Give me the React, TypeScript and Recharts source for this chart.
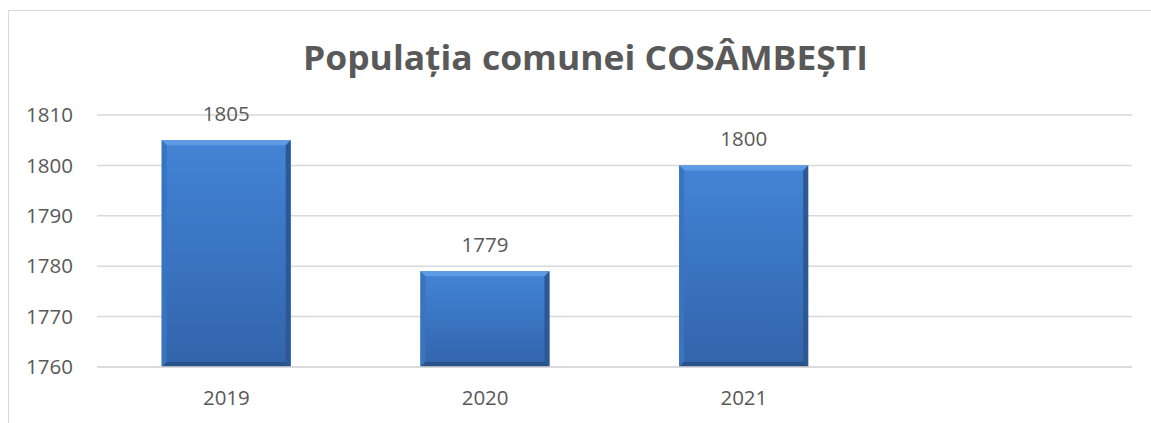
import { BarChart, Bar, XAxis, YAxis, CartesianGrid, LabelList } from "recharts";

const years = ["2019", "2020", "2021", ""];
const population: (number | null)[] = [1805, 1779, 1800, null];
const yTicks = [1760, 1770, 1780, 1790, 1800, 1810];

const data = years.map((year, i) => ({ year, value: population[i] }));

const FONT = "'Open Sans', sans-serif";
const TEXT = "#595959";

function BevelBar(props: any) {
  const { x, y, width: w, height: h } = props;
  if (!w || !h || h <= 0) return null;
  const b = 5;
  return (
    <g>
      <rect x={x} y={y} width={w} height={h} fill="url(#barFill)" />
      <polygon
        points={`${x},${y} ${x + w},${y} ${x + w - b},${y + b} ${x + b},${y + b}`}
        fill="#5c9be4"
      />
      <polygon
        points={`${x},${y} ${x + b},${y + b} ${x + b},${y + h - b} ${x},${y + h}`}
        fill="#3a73bf"
      />
      <polygon
        points={`${x + w},${y} ${x + w - b},${y + b} ${x + w - b},${y + h - b} ${x + w},${y + h}`}
        fill="#2c5993"
      />
      <polygon
        points={`${x},${y + h} ${x + w},${y + h} ${x + w - b},${y + h - b} ${x + b},${y + h - b}`}
        fill="#29518a"
      />
    </g>
  );
}

export default function App() {
  return (
    <div
      style={{
        position: "absolute",
        left: 0,
        top: 0,
        width: 1151,
        height: 423,
        overflow: "hidden",
        background: "#fff",
      }}
    >
      <div
        style={{
          position: "absolute",
          left: 8,
          top: 10,
          width: 1300,
          height: 600,
          border: "1.5px solid #d9d9d9",
        }}
      />
      <svg
        width={1151}
        height={100}
        style={{ position: "absolute", left: 0, top: 0 }}
      >
        <text
          x={303}
          y={70}
          textLength={565}
          lengthAdjust="spacingAndGlyphs"
          fontFamily={FONT}
          fontWeight={700}
          fontSize={34}
          fill={TEXT}
        >
          Populația comunei COSÂMBEȘTI
        </text>
      </svg>
      <div style={{ position: "absolute", left: 0, top: 0 }}>
        <BarChart
          width={1151}
          height={423}
          data={data}
          margin={{ top: 115, right: 19, bottom: 26, left: 0 }}
          barCategoryGap="25%"
        >
          <defs>
            <linearGradient id="barFill" x1="0" y1="0" x2="0" y2="1">
              <stop offset="0%" stopColor="#4285d5" />
              <stop offset="50%" stopColor="#3a74c2" />
              <stop offset="100%" stopColor="#3264aa" />
            </linearGradient>
          </defs>
          <CartesianGrid vertical={false} stroke="#d9d9d9" strokeWidth={1.5} />
          <XAxis
            dataKey="year"
            height={30}
            axisLine={{ stroke: "#d9d9d9", strokeWidth: 1.5 }}
            tickLine={false}
            tickSize={0}
            tickMargin={23}
            interval={0}
            tick={{ fill: TEXT, fontSize: 20.5, fontFamily: FONT }}
          />
          <YAxis
            width={97}
            domain={[1760, 1810]}
            ticks={yTicks}
            allowDataOverflow
            axisLine={false}
            tickLine={false}
            tickSize={0}
            tickMargin={24}
            tick={{ fill: TEXT, fontSize: 20.5, fontFamily: FONT }}
          />
          <Bar dataKey="value" shape={<BevelBar />} isAnimationActive={false}>
            <LabelList
              dataKey="value"
              position="top"
              offset={19}
              fill={TEXT}
              fontSize={20.5}
              fontFamily={FONT}
            />
          </Bar>
        </BarChart>
      </div>
    </div>
  );
}
